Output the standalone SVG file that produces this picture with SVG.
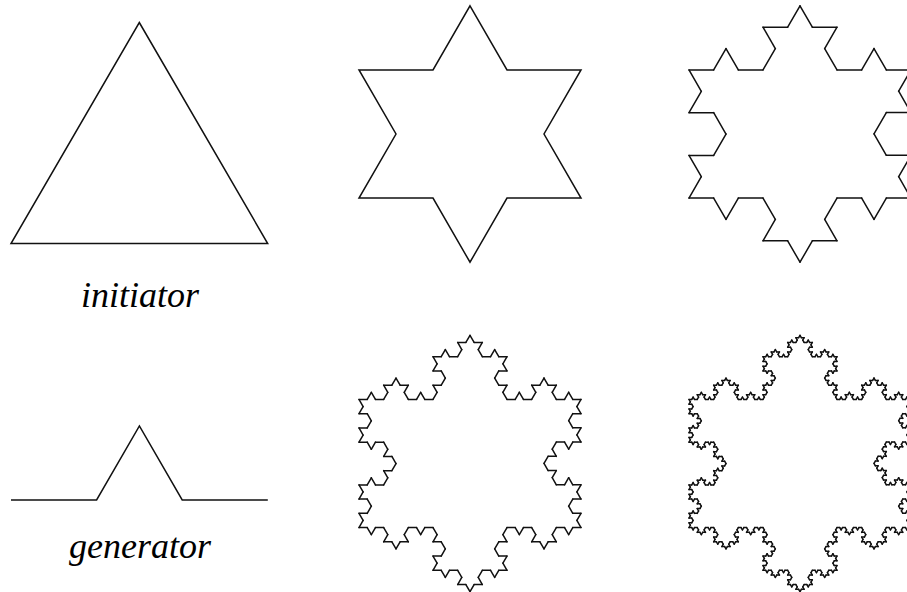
<svg xmlns="http://www.w3.org/2000/svg" xmlns:xlink="http://www.w3.org/1999/xlink" width="907" height="592" viewBox="0 0 907 592">
<style>
  .ln { fill: none; stroke: #111; stroke-width: 1.5; stroke-linejoin: miter; }
  .seg { fill: none; stroke: #111; stroke-width: 1.5; stroke-linecap: round; }
  .lbl { font-style: italic; font-size: 36px; fill: #000; text-anchor: middle; }
</style>
<defs>
  <path id="k0" class="seg" d="M0,0H1" vector-effect="non-scaling-stroke"/>
  <g id="k1">
    <use href="#k0" transform="scale(0.333333)"/>
    <use href="#k0" transform="translate(0.333333,0) rotate(-60) scale(0.333333)"/>
    <use href="#k0" transform="translate(0.5,-0.288675) rotate(60) scale(0.333333)"/>
    <use href="#k0" transform="translate(0.666667,0) scale(0.333333)"/>
  </g>
  <g id="k2">
    <use href="#k1" transform="scale(0.333333)"/>
    <use href="#k1" transform="translate(0.333333,0) rotate(-60) scale(0.333333)"/>
    <use href="#k1" transform="translate(0.5,-0.288675) rotate(60) scale(0.333333)"/>
    <use href="#k1" transform="translate(0.666667,0) scale(0.333333)"/>
  </g>
  <g id="k3">
    <use href="#k2" transform="scale(0.333333)"/>
    <use href="#k2" transform="translate(0.333333,0) rotate(-60) scale(0.333333)"/>
    <use href="#k2" transform="translate(0.5,-0.288675) rotate(60) scale(0.333333)"/>
    <use href="#k2" transform="translate(0.666667,0) scale(0.333333)"/>
  </g>
  <g id="k4">
    <use href="#k3" transform="scale(0.333333)"/>
    <use href="#k3" transform="translate(0.333333,0) rotate(-60) scale(0.333333)"/>
    <use href="#k3" transform="translate(0.5,-0.288675) rotate(60) scale(0.333333)"/>
    <use href="#k3" transform="translate(0.666667,0) scale(0.333333)"/>
  </g>
</defs>

<g id="initiator">
  <polygon class="ln" points="139.3,22.5 267.7,243.5 11,243.5"/>
  <text class="lbl" font-family="'Liberation Serif', 'DejaVu Serif', serif" x="140" y="307">initiator</text>
</g>

<g id="generator">
  <polyline class="ln" points="11,500 96.6,500 139.4,425.9 182.2,500 267.8,500"/>
  <text class="lbl" font-family="'Liberation Serif', 'DejaVu Serif', serif" x="140" y="558">generator</text>
</g>

<g id="level1">
  <polygon class="ln" points="470,5.8 507,69.9 581,69.9 544,134 581,198.1 507,198.1 470,262.2 433,198.1 359,198.1 396,134 359,69.9 433,69.9"/>
</g>

<g id="level2" transform="translate(800,134)">
  <use href="#k2" transform="translate(0,-128.2) rotate(60) scale(222)"/>
  <use href="#k2" transform="translate(111,64.1) rotate(180) scale(222)"/>
  <use href="#k2" transform="translate(-111,64.1) rotate(-60) scale(222)"/>
</g>

<g id="level3" transform="translate(470,463.5)">
  <use href="#k3" transform="translate(0,-128.2) rotate(60) scale(222)"/>
  <use href="#k3" transform="translate(111,64.1) rotate(180) scale(222)"/>
  <use href="#k3" transform="translate(-111,64.1) rotate(-60) scale(222)"/>
</g>

<g id="level4" transform="translate(800,463.5)">
  <use href="#k4" transform="translate(0,-128.2) rotate(60) scale(222)"/>
  <use href="#k4" transform="translate(111,64.1) rotate(180) scale(222)"/>
  <use href="#k4" transform="translate(-111,64.1) rotate(-60) scale(222)"/>
</g>
</svg>
